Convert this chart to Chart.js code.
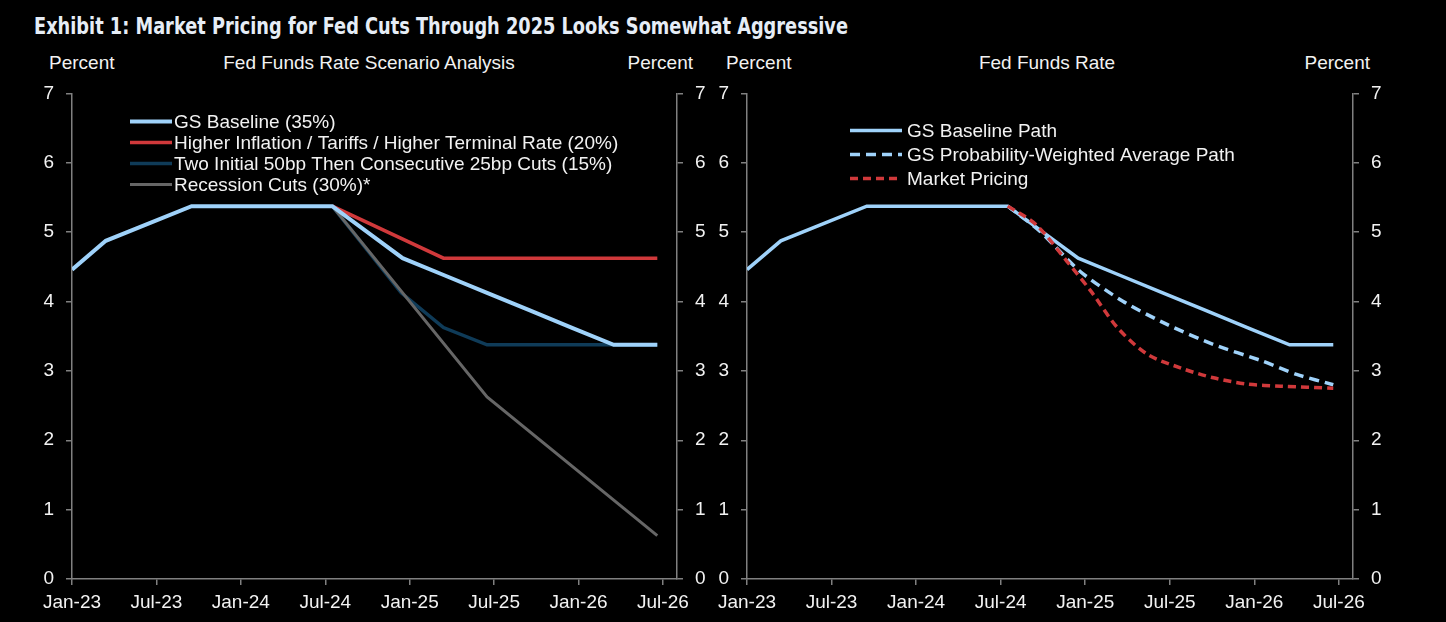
<!DOCTYPE html>
<html><head><meta charset="utf-8">
<script src="https://cdn.jsdelivr.net/npm/chart.js@4.4.1/dist/chart.umd.min.js"></script>
<style>
html,body{margin:0;padding:0;background:#000;width:1446px;height:622px;overflow:hidden;position:relative;}
.t{position:absolute;color:#f2f2f2;font-family:'Liberation Sans',Arial,sans-serif;font-size:19px;line-height:22px;white-space:nowrap;}
#title{font-family:'Liberation Sans Narrow','DejaVu Sans Condensed',sans-serif;font-weight:bold;font-size:23px;line-height:27px;left:34px;top:13px;color:#e6edf6;transform-origin:0 50%;}
canvas{position:absolute;}
</style></head><body>
<div id="title" class="t">Exhibit 1: Market Pricing for Fed Cuts Through 2025 Looks Somewhat Aggressive</div>
<div class="t" style="left:49px;top:52px">Percent</div>
<div class="t" style="left:369px;top:52px;transform:translateX(-50%)">Fed Funds Rate Scenario Analysis</div>
<div class="t" style="right:753px;top:52px">Percent</div>
<div class="t" style="left:726px;top:52px">Percent</div>
<div class="t" style="left:1047px;top:52px;transform:translateX(-50%)">Fed Funds Rate</div>
<div class="t" style="right:76px;top:52px">Percent</div>
<canvas id="c1" width="723" height="552" style="left:0;top:70px"></canvas>
<canvas id="c2" width="746" height="552" style="left:700px;top:70px"></canvas>
<script>
// ---- data (x = months since Jan-2023) ----
const xTickLabels = ['Jan-23','Jul-23','Jan-24','Jul-24','Jan-25','Jul-25','Jan-26','Jul-26'];
const baselineMonths = [0, 2.4, 8.5, 18.5, 23.5, 26.5, 29.5, 32.5, 35.5, 38.5, 41.6];
const baselineRates  = [4.46, 4.875, 5.375, 5.375, 4.625, 4.375, 4.125, 3.875, 3.625, 3.375, 3.375];
const higherInflMonths = [18.5, 26.4, 41.6];
const higherInflRates  = [5.375, 4.625, 4.625];
const twoFiftyMonths = [18.5, 23.4, 26.4, 29.5, 41.6];
const twoFiftyRates  = [5.375, 4.125, 3.625, 3.375, 3.375];
const recessionMonths = [18.5, 29.5, 41.6];
const recessionRates  = [5.375, 2.625, 0.625];
const probWeightedMonths = [18.5, 20.8, 23.6, 26.7, 29.8, 33.1, 36.6, 39.0, 41.6];
const probWeightedRates  = [5.375, 5.01, 4.44, 4.0, 3.67, 3.38, 3.14, 2.95, 2.8];
const marketMonths = [18.5, 20.5, 22.7, 24.4, 26.3, 28.4, 30.8, 33.1, 35.5, 37.9, 41.6];
const marketRates  = [5.375, 5.11, 4.58, 4.15, 3.62, 3.24, 3.04, 2.9, 2.81, 2.78, 2.75];

// fit title width
(function(){
  const t = document.getElementById('title');
  const w = t.getBoundingClientRect().width;
  t.style.transform = 'scaleX(' + (814 / w) + ')';
})();

const pts = (xs, ys) => xs.map((x, i) => ({x: x, y: ys[i]}));

const LIGHT = '#9fd2fa', RED = '#d0393b', DARK = '#0f3b58', GRAY = '#666666';
const AXIS = '#808080', TXT = '#f2f2f2';
const FONT = {family: "'Liberation Sans', Arial, sans-serif", size: 19};

const insideLegend = {
  id: 'insideLegend',
  afterDatasetsDraw(chart, args, o) {
    const ctx = chart.ctx, a = chart.chartArea;
    ctx.save();
    ctx.font = o.font;
    ctx.textBaseline = 'middle';
    ctx.textAlign = 'left';
    chart.data.datasets.forEach((ds, i) => {
      const y = a.top + o.top + i * o.rowHeight;
      const x0 = a.left + o.left;
      ctx.beginPath();
      ctx.strokeStyle = ds.borderColor;
      ctx.lineWidth = ds.borderWidth;
      ctx.setLineDash(ds.borderDash || []);
      ctx.moveTo(x0, y); ctx.lineTo(x0 + o.sample, y);
      ctx.stroke();
      ctx.setLineDash([]);
      ctx.fillStyle = TXT;
      ctx.fillText(ds.label, x0 + o.sample + o.gap, y + 1);
    });
    ctx.restore();
  }
};

function scales(leftW, rightW) {
  const yCommon = (pos, w) => ({
    position: pos, min: 0, max: 7,
    ticks: {stepSize: 1, color: TXT, font: FONT, padding: 12},
    grid: {drawOnChartArea: false, drawTicks: true, tickLength: 6, color: AXIS, lineWidth: 1.5},
    border: {color: AXIS, width: 1.5},
    afterFit: s => { s.width = w; }
  });
  return {
    x: {
      type: 'linear', min: 0, max: 43,
      afterBuildTicks: s => { s.ticks = xTickLabels.map((_, i) => ({value: i * 6})); },
      ticks: {autoSkip: false, maxRotation: 0, color: TXT, font: FONT, padding: 6,
              callback: v => xTickLabels[Math.round(v / 6)]},
      grid: {drawOnChartArea: false, drawTicks: true, tickLength: 6, color: AXIS, lineWidth: 1.5},
      border: {color: AXIS, width: 1.5},
      afterFit: s => { s.height = 43; }
    },
    y: yCommon('left', leftW),
    y2: yCommon('right', rightW)
  };
}

const common = (leftW, rightW, legend) => ({
  responsive: false, animation: false,
  layout: {padding: {top: 2, left: 0, right: 0, bottom: 0}},
  elements: {point: {radius: 0}, line: {borderCapStyle: 'butt', borderJoinStyle: 'miter'}},
  plugins: {legend: {display: false}, tooltip: {enabled: false}, insideLegend: legend},
  scales: scales(leftW, rightW)
});

new Chart(document.getElementById('c1'), {
  type: 'line',
  data: {datasets: [
    {label: 'GS Baseline (35%)', data: pts(baselineMonths, baselineRates), borderColor: LIGHT, borderWidth: 4, order: 0, tension: 0},
    {label: 'Higher Inflation / Tariffs / Higher Terminal Rate (20%)', data: pts(higherInflMonths, higherInflRates), borderColor: RED, borderWidth: 3.5, order: 2, tension: 0},
    {label: 'Two Initial 50bp Then Consecutive 25bp Cuts (15%)', data: pts(twoFiftyMonths, twoFiftyRates), borderColor: DARK, borderWidth: 3.5, order: 3, tension: 0},
    {label: 'Recession Cuts (30%)*', data: pts(recessionMonths, recessionRates), borderColor: GRAY, borderWidth: 3, order: 1, tension: 0}
  ]},
  options: common(72, 46, {font: "19px 'Liberation Sans', Arial, sans-serif", top: 28, rowHeight: 21, left: 58, sample: 42, gap: 2}),
  plugins: [insideLegend]
});

new Chart(document.getElementById('c2'), {
  type: 'line',
  data: {datasets: [
    {label: 'GS Baseline Path', data: pts(baselineMonths, baselineRates), borderColor: LIGHT, borderWidth: 3.5, order: 2, tension: 0},
    {label: 'GS Probability-Weighted Average Path', data: pts(probWeightedMonths, probWeightedRates), borderColor: LIGHT, borderWidth: 3.5, borderDash: [10, 6], order: 1, tension: 0.25},
    {label: 'Market Pricing', data: pts(marketMonths, marketRates), borderColor: RED, borderWidth: 3.5, borderDash: [8, 5], order: 0, tension: 0.3}
  ]},
  options: common(47, 93, {font: "19px 'Liberation Sans', Arial, sans-serif", top: 37, rowHeight: 24, left: 103, sample: 52, gap: 5}),
  plugins: [insideLegend]
});
</script>
</body></html>
